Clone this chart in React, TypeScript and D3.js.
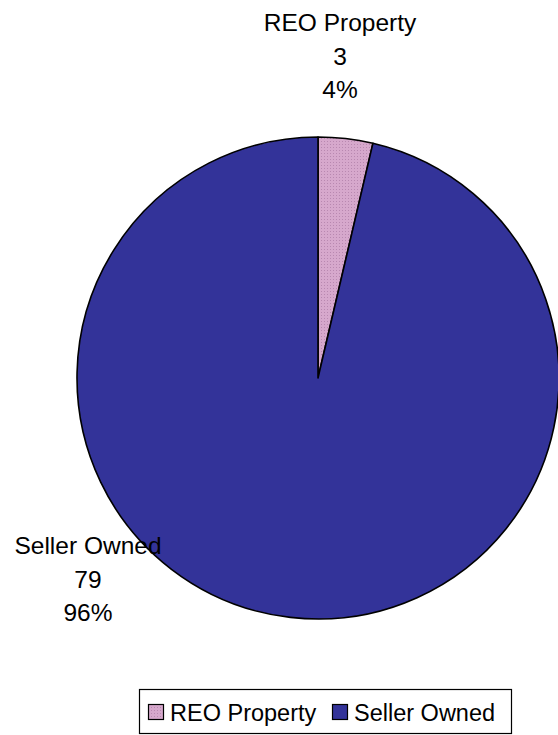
import React from 'react';
import * as d3 from 'd3';

const categories = ['REO Property', 'Seller Owned'];
const counts = [3, 79];
const colors = ['url(#reoPattern)', '#333399'];
const swatchColors = ['url(#reoPattern)', '#333399'];

// label anchors (layout only, centre of the first line)
const labelAnchors: [number, number][] = [
  [340, 31],
  [88, 554],
];

const width = 558;
const height = 735;

const App: React.FC = () => {
  const svgRef = React.useRef<SVGSVGElement>(null);

  React.useEffect(() => {
    if (!svgRef.current) return;
    const svg = d3.select(svgRef.current);
    svg.selectAll('*').remove();

    const font = 'Liberation Sans, Arial, sans-serif';
    const cx = 318;
    const cy = 378;
    const radius = 241;

    // dotted pink pattern like Excel
    const defs = svg.append('defs');
    const pat = defs.append('pattern')
      .attr('id', 'reoPattern')
      .attr('patternUnits', 'userSpaceOnUse')
      .attr('width', 3)
      .attr('height', 3);
    pat.append('rect').attr('width', 3).attr('height', 3).attr('fill', '#d6a8cc');
    pat.append('rect').attr('width', 1).attr('height', 1).attr('fill', '#b888b0');

    const total = d3.sum(counts);
    const data = categories.map((c, i) => ({ name: c, value: counts[i], color: colors[i] }));

    const pie = d3.pie<typeof data[0]>()
      .sort(null)
      .value(d => d.value)
      .startAngle(0)
      .endAngle(2 * Math.PI);

    const arc = d3.arc<d3.PieArcDatum<typeof data[0]>>()
      .innerRadius(0)
      .outerRadius(radius);

    const g = svg.append('g').attr('transform', `translate(${cx},${cy})`);

    g.selectAll('path')
      .data(pie(data))
      .enter().append('path')
      .attr('d', arc)
      .attr('fill', d => d.data.color)
      .attr('stroke', '#000')
      .attr('stroke-width', 1.6)
      .attr('stroke-linejoin', 'round');

    // data labels
    data.forEach((d, i) => {
      const [lx, ly] = labelAnchors[i];
      const t = svg.append('text')
        .attr('x', lx)
        .attr('y', ly)
        .attr('text-anchor', 'middle')
        .attr('font-family', font)
        .attr('font-size', 24.5)
        .attr('fill', '#000');
      const lines = [d.name, String(d.value), `${Math.round((d.value / total) * 100)}%`];
      lines.forEach((line, j) => {
        t.append('tspan')
          .attr('x', lx)
          .attr('dy', j === 0 ? 0 : 33.5)
          .text(line);
      });
    });

    // legend
    const legend = svg.append('g');
    legend.append('rect')
      .attr('x', 139.5)
      .attr('y', 689.5)
      .attr('width', 372)
      .attr('height', 44)
      .attr('fill', '#fff')
      .attr('stroke', '#000')
      .attr('stroke-width', 1.2);

    const itemX = [148, 332];
    categories.forEach((c, i) => {
      const item = legend.append('g').attr('transform', `translate(${itemX[i]},704)`);
      item.append('rect')
        .attr('x', 0.5)
        .attr('y', 0.5)
        .attr('width', 15)
        .attr('height', 15)
        .attr('fill', swatchColors[i])
        .attr('stroke', '#000')
        .attr('stroke-width', 1.2);
      item.append('text')
        .attr('x', 22)
        .attr('y', 16.5)
        .attr('font-family', font)
        .attr('font-size', 23.5)
        .attr('fill', '#000')
        .text(c);
    });
  }, []);

  return (
    <svg
      ref={svgRef}
      width={width}
      height={height}
      viewBox={`0 0 ${width} ${height}`}
      style={{ position: 'absolute', left: 0, top: 0, background: '#fff' }}
    />
  );
};

export default App;
